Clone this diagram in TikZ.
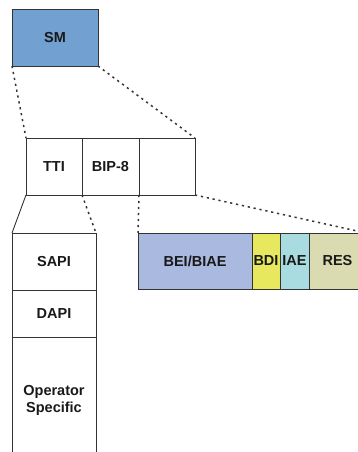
\documentclass[tikz,border=0pt]{standalone}
\usepackage{fontspec}
\setmainfont{Liberation Sans}
\usetikzlibrary{positioning}
\definecolor{smblue}{HTML}{72A0D0}
\definecolor{beiblue}{HTML}{AAB9DF}
\definecolor{bdiyellow}{HTML}{E8E85E}
\definecolor{iaecyan}{HTML}{A8DCE0}
\definecolor{resolive}{HTML}{DADBB0}
\definecolor{edge}{HTML}{333333}

\begin{document}
\begin{tikzpicture}[x=1pt,y=-1pt,
		field/.style={draw=edge,line width=0.9pt,outer sep=0pt,inner sep=0pt,minimum height=57pt,text=black!90,font=\fontsize{14.5}{17}\selectfont\bfseries,align=center},
		link/.style={edge,line width=1.5pt,dash pattern=on 2.2pt off 3.8pt}]
		\useasboundingbox (0,0) rectangle (358,452);
		\node [field,fill=smblue,minimum width=86pt,anchor=north west] (SM) at (12,9) {SM};
		\node [field,minimum width=56pt,anchor=north west] (TTI) at (26,138) {TTI};
		\node [field,minimum width=57pt,right=0pt of TTI] (BIP) {BIP-8};
		\node [field,minimum width=56pt,right=0pt of BIP] (SPARE) {};
		\node [field,minimum width=84pt,anchor=north west] (SAPI) at (12,233) {SAPI};
		\node [field,minimum width=84pt,minimum height=47pt,below=0pt of SAPI] (DAPI) {DAPI};
		\node [field,minimum width=84pt,minimum height=126pt,below=0pt of DAPI] (OPER) {Operator\\Specific};
		\node [field,fill=beiblue,minimum width=114pt,minimum height=56pt,anchor=north west] (BEI) at (138,233) {BEI/BIAE};
		\node [field,fill=bdiyellow,minimum width=28pt,minimum height=56pt,right=0pt of BEI] (BDI) {BDI};
		\node [field,fill=iaecyan,minimum width=29pt,minimum height=56pt,right=0pt of BDI] (IAE) {IAE};
		\node [field,fill=resolive,minimum width=57pt,minimum height=56pt,right=0pt of IAE] (RES) {RES};
		\draw [link] (SM.south west) -- (TTI.north west);
		\draw [link] (SM.south east) -- (SPARE.north east);
		\draw [edge,line width=0.9pt] (TTI.south west) -- (SAPI.north west);
		\draw [link] (BIP.south west) -- (SAPI.north east);
		\draw [link] (SPARE.south west) -- (BEI.north west);
		\draw [link] (SPARE.south east) -- (RES.north east);
	\end{tikzpicture}
\end{document}
